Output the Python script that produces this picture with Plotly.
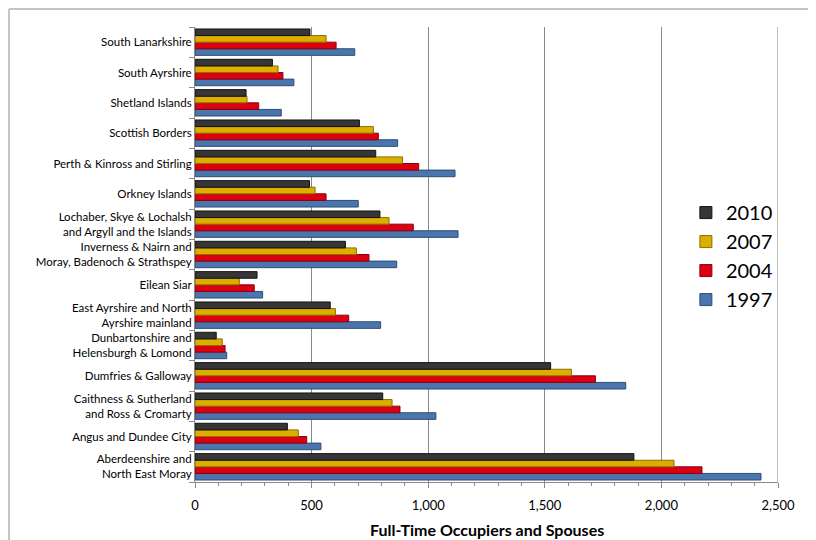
import plotly.graph_objs as go

# regions listed bottom to top, as plotly draws a category y axis
regions = [
    "Aberdeenshire and<br>North East Moray",
    "Angus and Dundee City",
    "Caithness & Sutherland<br>and Ross & Cromarty",
    "Dumfries & Galloway",
    "Dunbartonshire and<br>Helensburgh & Lomond",
    "East Ayrshire and North<br>Ayrshire mainland",
    "Eilean Siar",
    "Inverness & Nairn and<br>Moray, Badenoch & Strathspey",
    "Lochaber, Skye & Lochalsh<br>and Argyll and the Islands",
    "Orkney Islands",
    "Perth & Kinross and Stirling",
    "Scottish Borders",
    "Shetland Islands",
    "South Ayrshire",
    "South Lanarkshire",
]

y1997 = [2427, 540, 1033, 1847, 136, 796, 290, 865, 1128, 700, 1115, 869, 370, 424, 685]
y2004 = [2174, 479, 879, 1717, 129, 659, 254, 746, 936, 562, 959, 786, 273, 377, 605]
y2007 = [2054, 443, 845, 1614, 117, 602, 190, 692, 832, 515, 890, 765, 223, 356, 562]
y2010 = [1882, 396, 805, 1525, 91, 580, 266, 645, 793, 491, 775, 705, 219, 332, 493]

series = [
    ("1997", y1997, "#4a76ad", "#2e4d75"),
    ("2004", y2004, "#dc0010", "#8b0010"),
    ("2007", y2007, "#dcae00", "#8c6e00"),
    ("2010", y2010, "#363636", "#111111"),
]

FONT = "Lato, 'Open Sans', sans-serif"

fig = go.Figure()
for name, vals, col, edge in series:
    fig.add_trace(
        go.Bar(
            name=name,
            y=regions,
            x=vals,
            orientation="h",
            marker=dict(color=col, line=dict(color=edge, width=1)),
        )
    )

# page body has an 8px margin, so the figure is 808x532
fig.update_layout(
    width=808,
    height=532,
    margin=dict(l=187, r=38, t=19, b=58, autoexpand=False),
    paper_bgcolor="white",
    plot_bgcolor="white",
    barmode="group",
    bargap=0.13,
    bargroupgap=0,
    font=dict(family=FONT, size=11.5, color="black"),
    legend=dict(
        x=0.842,
        y=0.635,
        xanchor="left",
        yanchor="top",
        traceorder="reversed",
        font=dict(size=20, family=FONT),
        bgcolor="rgba(0,0,0,0)",
        itemwidth=30,
    ),
    showlegend=True,
)

fig.update_xaxes(
    range=[0, 2500],
    automargin=False,
    tickvals=[0, 500, 1000, 1500, 2000, 2500],
    ticktext=["0", "500", "1,000", "1,500", "2,000", "2,500"],
    tickfont=dict(size=13),
    ticklabelstandoff=6,
    showgrid=True,
    gridcolor="#8a8a8a",
    gridwidth=1,
    showline=True,
    linecolor="#8a8a8a",
    ticks="outside",
    ticklen=5,
    tickcolor="#8a8a8a",
    minor=dict(dtick=100, ticks="outside", ticklen=3, tickcolor="#8a8a8a", showgrid=False),
    zeroline=False,
)

fig.update_yaxes(
    type="category",
    automargin=False,
    categoryorder="array",
    categoryarray=regions,
    tickson="boundaries",
    ticks="outside",
    ticklen=5,
    tickcolor="#8a8a8a",
    showline=True,
    linecolor="#8a8a8a",
    showgrid=False,
    tickfont=dict(size=11.5),
)

# axis title as a fixed annotation under the tick labels
fig.add_annotation(
    text="<b>Full-Time Occupiers and Spouses</b>",
    xref="paper", yref="paper", x=0.5, y=-0.105,
    xanchor="center", yanchor="middle", showarrow=False,
    font=dict(size=16, family=FONT),
)

# right plot-area edge and the outer chart frame (left and top edges only)
fig.add_shape(type="line", xref="x", yref="paper", x0=2500, x1=2500, y0=0, y1=1,
              line=dict(color="#c0c0c0", width=2))
fig.add_shape(type="line", xref="paper", yref="paper",
              x0=-0.319, x1=-0.319, y0=-0.5, y1=1.0396,
              line=dict(color="#c4c4c4", width=2), layer="below")
fig.add_shape(type="line", xref="paper", yref="paper",
              x0=-0.319, x1=1.5, y0=1.0396, y1=1.0396,
              line=dict(color="#c4c4c4", width=2), layer="below")

fig.write_html("out.html")
